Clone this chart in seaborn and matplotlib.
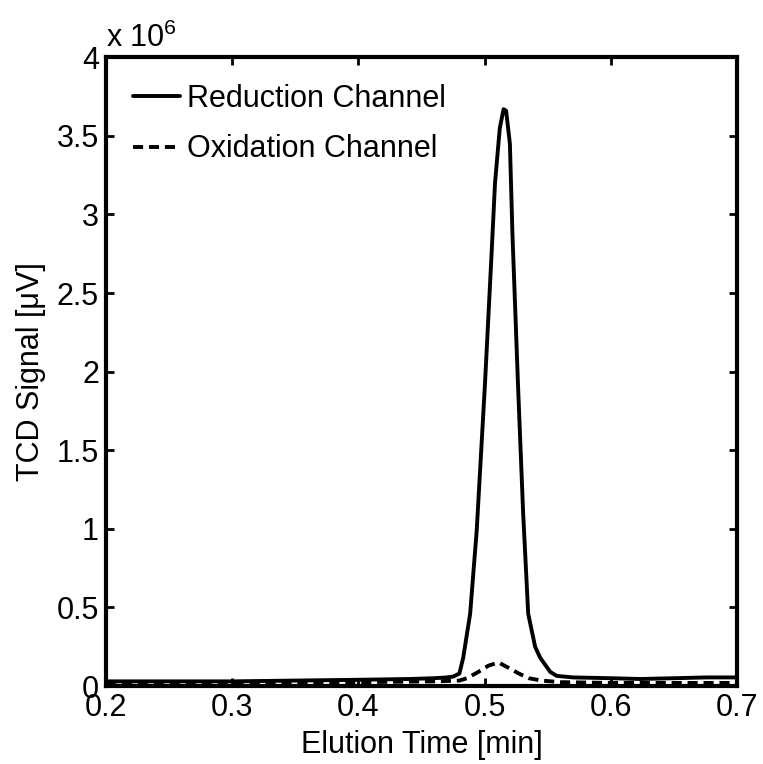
import pandas as pd
import matplotlib
matplotlib.use("Agg")
import matplotlib.pyplot as plt
import seaborn as sns

# datos (senal en unidades de 10^6 uV)
t_red = [0.20, 0.25, 0.30, 0.35, 0.40, 0.44, 0.46, 0.47, 0.475, 0.480, 0.483,
         0.4885, 0.4937, 0.5003, 0.5056, 0.5082, 0.512, 0.5150, 0.5170, 0.520,
         0.522, 0.5265, 0.5305, 0.5345, 0.540, 0.544, 0.552, 0.557, 0.570,
         0.60, 0.623, 0.65, 0.676, 0.70]
sig_red = [0.03, 0.03, 0.03, 0.035, 0.04, 0.045, 0.05, 0.055, 0.06, 0.08, 0.18,
           0.46, 0.99, 1.93, 2.77, 3.20, 3.55, 3.67, 3.66, 3.45,
           2.88, 1.90, 1.10, 0.46, 0.25, 0.18, 0.09, 0.065, 0.055,
           0.05, 0.045, 0.05, 0.055, 0.055]

t_ox = [0.20, 0.30, 0.40, 0.46, 0.48, 0.486, 0.495, 0.503, 0.5110, 0.518,
        0.527, 0.535, 0.545, 0.56, 0.60, 0.70]
sig_ox = [0.02, 0.02, 0.025, 0.03, 0.035, 0.05, 0.09, 0.13, 0.15, 0.12,
          0.08, 0.05, 0.035, 0.025, 0.02, 0.02]

x_ticks = [0.2, 0.3, 0.4, 0.5, 0.6, 0.7]
y_ticks = [0, 0.5, 1, 1.5, 2, 2.5, 3, 3.5, 4]
y_ticklabels = ["0", "0.5", "1", "1.5", "2", "2.5", "3", "3.5", "4"]

df_red = pd.DataFrame({"t": t_red, "s": sig_red})
df_ox = pd.DataFrame({"t": t_ox, "s": sig_ox})

sns.set_style("ticks")
plt.rcParams["font.family"] = ["Liberation Sans", "DejaVu Sans"]
plt.rcParams["font.size"] = 22
plt.rcParams["mathtext.default"] = "regular"
for k in ["text.color", "axes.labelcolor", "xtick.color", "ytick.color"]:
    plt.rcParams[k] = "black"

fig = plt.figure(figsize=(7.63, 7.64), dpi=100)
ax = fig.add_axes([0.139, 0.102, 0.827, 0.823])

sns.lineplot(data=df_red, x="t", y="s", color="black", linewidth=2.8,
             label="Reduction Channel", ax=ax)
sns.lineplot(data=df_ox, x="t", y="s", color="black", linewidth=2.8,
             linestyle=(0, (2.6, 1.5)), label="Oxidation Channel", ax=ax)

ax.set_xlim(0.2, 0.7)
ax.set_ylim(0, 4)
ax.set_xticks(x_ticks)
ax.set_xticklabels([f"{v:.1f}" for v in x_ticks])
ax.set_yticks(y_ticks)
ax.set_yticklabels(y_ticklabels)
ax.tick_params(direction="in", top=True, right=True, length=6, width=2,
               labelsize=22, pad=5, color="black")
for sp in ax.spines.values():
    sp.set_linewidth(3)
    sp.set_color("black")

ax.set_xlabel("Elution Time [min]", fontsize=22, labelpad=5)
ax.set_ylabel("TCD Signal [\u03bcV]", fontsize=22, labelpad=8)
ax.text(0.0, 1.006, "x 10$^{6}$", transform=ax.transAxes, fontsize=22,
        ha="left", va="bottom")

ax.legend(loc="upper left", frameon=False, fontsize=22, handlelength=1.55,
          handletextpad=0.23, labelspacing=0.66, borderaxespad=0.48,
          bbox_to_anchor=(0.0, 1.0))

fig.savefig("out.png", dpi=100)
